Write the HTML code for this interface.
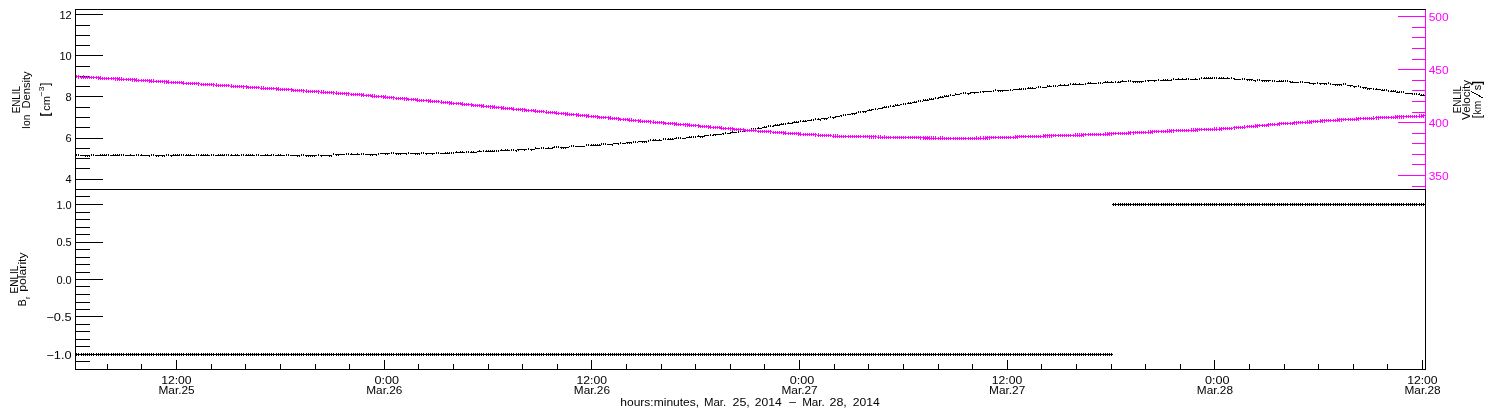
<!DOCTYPE html>
<html><head><meta charset="utf-8"><title>ENLIL</title>
<style>
html,body{margin:0;padding:0;background:#fff;}
body{width:1500px;height:410px;overflow:hidden;}
svg{display:block;}
text{font-family:"Liberation Sans",sans-serif;}
</style></head><body>
<svg width="1500" height="410" viewBox="0 0 1500 410">
<rect width="1500" height="410" fill="#fff"/>
<g shape-rendering="crispEdges">
<path d="M75 9.5h1351M75 189.5h1351M75 369.5h1351M75.5 9v361M1425.5 190v180M76 14.5h27M76 25.5h14M76 35.5h14M76 45.5h14M76 55.5h27M76 66.5h14M76 76.5h14M76 86.5h14M76 96.5h27M76 107.5h14M76 117.5h14M76 127.5h14M76 138.5h27M76 148.5h14M76 158.5h14M76 168.5h14M76 179.5h27M76 196.5h14M76 204.5h27M76 212.5h14M76 219.5h14M76 227.5h14M76 234.5h14M76 242.5h27M76 249.5h14M76 257.5h14M76 264.5h14M76 272.5h14M76 279.5h27M76 286.5h14M76 294.5h14M76 302.5h14M76 309.5h14M76 316.5h27M76 324.5h14M76 331.5h14M76 339.5h14M76 346.5h14M76 354.5h27M76 361.5h14M107.5 364v5M141.5 364v5M176.5 360v9M211.5 364v5M245.5 364v5M280.5 364v5M315.5 364v5M349.5 364v5M384.5 360v9M418.5 364v5M453.5 364v5M488.5 364v5M522.5 364v5M557.5 364v5M591.5 360v9M626.5 364v5M661.5 364v5M695.5 364v5M730.5 364v5M764.5 364v5M799.5 360v9M834.5 364v5M868.5 364v5M903.5 364v5M938.5 364v5M972.5 364v5M1007.5 360v9M1041.5 364v5M1076.5 364v5M1111.5 364v5M1145.5 364v5M1180.5 364v5M1214.5 360v9M1249.5 364v5M1284.5 364v5M1318.5 364v5M1353.5 364v5M1387.5 364v5M1422.5 360v9M76.5 154v2M78.5 154v2M80 155.5h1M81 155.5h1M82 155.5h1M83 155.5h1M84 155.5h1M85 155.5h1M85 156.5h1M86 155.5h1M87 155.5h1M87 156.5h1M88 155.5h1M89 155.5h1M89 156.5h1M91.5 154v2M93.5 154v2M95 155.5h1M96 155.5h1M97 155.5h1M98 155.5h1M99 155.5h1M100 155.5h1M100 154.5h1M101 155.5h1M102 155.5h1M102 154.5h1M103 155.5h1M104 155.5h1M104 154.5h1M105 155.5h1M106 155.5h1M106 154.5h1M108.5 154v2M110 155.5h1M111 155.5h1M112 155.5h1M113 155.5h1M113 154.5h1M114 155.5h1M115 155.5h1M115 154.5h1M116 155.5h1M117 155.5h1M117 154.5h1M118 155.5h1M119 155.5h1M119 154.5h1M121.5 154v2M123.5 154v2M125 155.5h1M126 155.5h1M127 155.5h1M128 155.5h1M129 155.5h1M130 155.5h1M130 154.5h1M131 155.5h1M132 155.5h1M133 155.5h1M134 155.5h1M136.5 154v2M138.5 154v2M140 155.5h1M141 155.5h1M141 154.5h1M142 155.5h1M143 155.5h1M144 155.5h1M145 155.5h1M146 155.5h1M147 155.5h1M148 155.5h1M149 155.5h1M149 156.5h1M151.5 154v2M153.5 154v2M155 155.5h1M156 155.5h1M156 156.5h1M157 155.5h1M158 155.5h1M158 156.5h1M159 155.5h1M160 155.5h1M161 155.5h1M162 155.5h1M162 156.5h1M163 155.5h1M164 155.5h1M164 156.5h1M166.5 154v2M168.5 154v2M170 155.5h1M171 155.5h1M171 156.5h1M172 155.5h1M173 155.5h1M173 154.5h1M174 155.5h1M175 155.5h1M175 154.5h1M176 155.5h1M177 155.5h1M177 154.5h1M178 155.5h1M179 155.5h1M179 154.5h1M181.5 154v2M183.5 154v2M185 155.5h1M186 155.5h1M186 154.5h1M187 155.5h1M188 155.5h1M188 154.5h1M189 155.5h1M190 155.5h1M190 154.5h1M191 155.5h1M192 155.5h1M193 155.5h1M194 155.5h1M196.5 154v2M198.5 154v2M200 155.5h1M201 155.5h1M201 154.5h1M202 155.5h1M203 155.5h1M203 154.5h1M204 155.5h1M205 155.5h1M205 154.5h1M206 155.5h1M207 155.5h1M207 154.5h1M208 155.5h1M209 155.5h1M211.5 154v2M213.5 154v2M215 155.5h1M216 155.5h1M217 155.5h1M218 155.5h1M218 154.5h1M219 155.5h1M220 155.5h1M220 154.5h1M221 155.5h1M222 155.5h1M222 154.5h1M223 155.5h1M224 155.5h1M224 154.5h1M226.5 154v2M228.5 154v2M230 155.5h1M231 155.5h1M231 154.5h1M232 155.5h1M233 155.5h1M234 155.5h1M235 155.5h1M235 154.5h1M236 155.5h1M237 155.5h1M237 154.5h1M238 155.5h1M239 155.5h1M241.5 154v2M243.5 154v2M245 155.5h1M246 155.5h1M246 154.5h1M247 155.5h1M248 155.5h1M248 154.5h1M249 155.5h1M250 155.5h1M250 154.5h1M251 155.5h1M252 155.5h1M252 154.5h1M253 155.5h1M254 155.5h1M256.5 154v2M258.5 154v2M260 155.5h1M261 155.5h1M262 155.5h1M263 155.5h1M264 155.5h1M265 155.5h1M265 154.5h1M266 155.5h1M267 155.5h1M267 154.5h1M268 155.5h1M269 155.5h1M270 155.5h1M271 155.5h1M271 154.5h1M273.5 154v2M275 155.5h1M276 155.5h1M277 155.5h1M278 155.5h1M278 154.5h1M279 155.5h1M280 155.5h1M280 154.5h1M281 155.5h1M282 155.5h1M283 155.5h1M284 155.5h1M286.5 154v2M288.5 154v2M290 155.5h1M291 155.5h1M292 155.5h1M293 155.5h1M294 155.5h1M295 155.5h1M296 155.5h1M297 155.5h1M297 156.5h1M298 155.5h1M299 155.5h1M299 156.5h1M301.5 154v2M303.5 154v2M305 155.5h1M306 155.5h1M306 156.5h1M307 155.5h1M308 155.5h1M308 156.5h1M309 155.5h1M310 155.5h1M310 156.5h1M311 155.5h1M312 155.5h1M312 156.5h1M313 155.5h1M314 155.5h1M314 156.5h1M315 155.5h1M316 155.5h1M318.5 154v2M320 155.5h1M321 155.5h1M321 156.5h1M322 155.5h1M323 155.5h1M324 155.5h1M325 155.5h1M326 155.5h1M327 155.5h1M328 155.5h1M329 155.5h1M329 156.5h1M330 155.5h1M331 155.5h1M331 156.5h1M333.5 153v2M335 154.5h1M336 154.5h1M336 155.5h1M337 154.5h1M338 154.5h1M338 155.5h1M339 154.5h1M340 154.5h1M341 154.5h1M342 154.5h1M343 154.5h1M344 154.5h1M346.5 153v2M348.5 153v2M350 154.5h1M351 154.5h1M351 153.5h1M352 154.5h1M353 154.5h1M354 154.5h1M355 154.5h1M356 154.5h1M357 154.5h1M357 153.5h1M358 154.5h1M359 154.5h1M361.5 153v2M363.5 153v2M365 154.5h1M366 154.5h1M367 154.5h1M368 154.5h1M369 154.5h1M370 154.5h1M370 155.5h1M371 154.5h1M372 154.5h1M372 155.5h1M373 154.5h1M374 154.5h1M375 154.5h1M376 154.5h1M376 155.5h1M378.5 153v2M380 153.5h1M381 153.5h1M382 153.5h1M383 153.5h1M384 153.5h1M385 153.5h1M385 154.5h1M386 153.5h1M387 153.5h1M387 154.5h1M388 153.5h1M389 153.5h1M391.5 152v2M393.5 152v2M395 153.5h1M396 153.5h1M396 154.5h1M397 153.5h1M398 153.5h1M398 154.5h1M399 153.5h1M400 153.5h1M400 154.5h1M401 153.5h1M402 153.5h1M403 153.5h1M404 153.5h1M405 153.5h1M406 153.5h1M406 154.5h1M408.5 152v2M410 153.5h1M411 153.5h1M412 153.5h1M413 153.5h1M414 153.5h1M415 153.5h1M415 154.5h1M416 153.5h1M417 153.5h1M417 154.5h1M418 153.5h1M419 153.5h1M419 154.5h1M421.5 152v2M423.5 152v2M425 153.5h1M426 153.5h1M426 154.5h1M427 153.5h1M428 153.5h1M429 153.5h1M430 153.5h1M431 153.5h1M432 153.5h1M432 154.5h1M433 153.5h1M434 153.5h1M436.5 152v2M438.5 152v2M440 153.5h1M441 153.5h1M442 153.5h1M443 153.5h1M444 153.5h1M445 153.5h1M445 152.5h1M446 153.5h1M447 153.5h1M447 152.5h1M448 153.5h1M449 153.5h1M449 152.5h1M451.5 152v2M453.5 152v2M455 152.5h1M456 152.5h1M456 151.5h1M457 152.5h1M458 152.5h1M459 152.5h1M460 152.5h1M460 151.5h1M461 152.5h1M462 152.5h1M462 151.5h1M463 152.5h1M464 152.5h1M466.5 151v2M468.5 151v2M470 152.5h1M471 152.5h1M471 151.5h1M472 152.5h1M473 152.5h1M473 151.5h1M474 152.5h1M475 152.5h1M476 152.5h1M477 151.5h1M478 151.5h1M479 151.5h1M479 150.5h1M480 151.5h1M481 151.5h1M483.5 150v2M485 151.5h1M486 151.5h1M486 150.5h1M487 151.5h1M488 151.5h1M488 150.5h1M489 151.5h1M490 151.5h1M490 150.5h1M491 151.5h1M492 151.5h1M492 150.5h1M493 151.5h1M494 151.5h1M494 150.5h1M496.5 150v2M498.5 150v2M500 150.5h1M501 150.5h1M501 149.5h1M502 150.5h1M503 150.5h1M504 150.5h1M505 150.5h1M505 149.5h1M506 150.5h1M507 150.5h1M507 149.5h1M508 150.5h1M509 150.5h1M511.5 149v2M513.5 149v2M515 150.5h1M516 150.5h1M516 151.5h1M517 149.5h1M518 149.5h1M518 150.5h1M519 149.5h1M520 149.5h1M521 149.5h1M522 149.5h1M523 149.5h1M524 149.5h1M524 150.5h1M525 149.5h1M526 149.5h1M528.5 148v2M530 149.5h1M531 149.5h1M531 150.5h1M532 149.5h1M533 149.5h1M534 149.5h1M535 148.5h1M535 147.5h1M536 148.5h1M537 148.5h1M538 148.5h1M539 148.5h1M541.5 147v2M543.5 147v2M545 148.5h1M546 148.5h1M547 148.5h1M548 148.5h1M548 147.5h1M549 148.5h1M550 148.5h1M551 148.5h1M552 148.5h1M552 147.5h1M553 147.5h1M554 147.5h1M554 146.5h1M556.5 146v2M558.5 146v2M560 147.5h1M561 147.5h1M561 148.5h1M562 147.5h1M563 147.5h1M563 148.5h1M564 147.5h1M565 147.5h1M565 148.5h1M566 147.5h1M567 147.5h1M568 147.5h1M569 146.5h1M571.5 145v2M573.5 145v2M575 146.5h1M576 146.5h1M577 146.5h1M578 146.5h1M579 146.5h1M580 146.5h1M581 146.5h1M582 146.5h1M583 146.5h1M584 146.5h1M586.5 144v2M588.5 144v2M590 145.5h1M591 145.5h1M591 144.5h1M592 145.5h1M593 145.5h1M593 144.5h1M594 145.5h1M595 145.5h1M595 144.5h1M596 145.5h1M597 145.5h1M597 144.5h1M598 145.5h1M599 145.5h1M599 144.5h1M600 145.5h1M601 144.5h1M601 143.5h1M603.5 143v2M605.5 143v2M607 144.5h1M608 144.5h1M609 144.5h1M610 144.5h1M611 144.5h1M612 144.5h1M612 145.5h1M613 143.5h1M614 143.5h1M615 143.5h1M616 143.5h1M617 143.5h1M618 143.5h1M618 144.5h1M620.5 142v2M622 143.5h1M623 143.5h1M624 143.5h1M625 143.5h1M626 142.5h1M627 142.5h1M627 143.5h1M628 142.5h1M629 142.5h1M629 143.5h1M630 142.5h1M631 142.5h1M631 143.5h1M633.5 141v2M635.5 141v2M637 142.5h1M638 141.5h1M639 141.5h1M640 141.5h1M641 141.5h1M642 141.5h1M642 142.5h1M643 141.5h1M644 141.5h1M644 142.5h1M645 141.5h1M646 141.5h1M646 142.5h1M648.5 140v2M650.5 139v2M652 140.5h1M653 140.5h1M653 139.5h1M654 140.5h1M655 140.5h1M655 139.5h1M656 140.5h1M657 140.5h1M658 140.5h1M659 140.5h1M659 139.5h1M660 140.5h1M661 140.5h1M663.5 138v2M665.5 138v2M667 139.5h1M668 139.5h1M668 138.5h1M669 139.5h1M670 139.5h1M670 138.5h1M671 139.5h1M672 139.5h1M672 138.5h1M673 139.5h1M674 138.5h1M675 138.5h1M676 138.5h1M676 137.5h1M678.5 137v2M680.5 137v2M682 138.5h1M683 138.5h1M684 138.5h1M685 138.5h1M686 137.5h1M687 137.5h1M688 137.5h1M689 137.5h1M689 136.5h1M690 137.5h1M691 137.5h1M691 136.5h1M693.5 136v2M695.5 136v2M697 136.5h1M698 136.5h1M698 135.5h1M699 136.5h1M700 136.5h1M700 137.5h1M701 136.5h1M702 136.5h1M702 137.5h1M703 136.5h1M704 135.5h1M704 136.5h1M705 135.5h1M706 135.5h1M707 135.5h1M708 135.5h1M710.5 134v2M712 135.5h1M713 134.5h1M713 135.5h1M714 134.5h1M715 134.5h1M715 135.5h1M716 134.5h1M717 134.5h1M718 134.5h1M719 134.5h1M720 134.5h1M721 134.5h1M722 133.5h1M723 133.5h1M723 134.5h1M725.5 132v2M727 133.5h1M728 133.5h1M729 133.5h1M730 133.5h1M730 132.5h1M731 132.5h1M732 132.5h1M732 131.5h1M733 132.5h1M734 132.5h1M735 132.5h1M736 132.5h1M738.5 131v2M740.5 130v2M742 131.5h1M743 131.5h1M744 131.5h1M745 130.5h1M745 129.5h1M746 130.5h1M747 130.5h1M748 130.5h1M749 130.5h1M750 130.5h1M751 129.5h1M751 128.5h1M753.5 128v2M755.5 128v2M757 128.5h1M758 128.5h1M758 127.5h1M759 128.5h1M760 128.5h1M761 128.5h1M762 127.5h1M763 127.5h1M764 127.5h1M764 126.5h1M765 127.5h1M766 127.5h1M766 126.5h1M768.5 125v2M770.5 125v2M772 126.5h1M773 126.5h1M773 125.5h1M774 125.5h1M775 125.5h1M775 124.5h1M776 125.5h1M777 125.5h1M777 124.5h1M778 125.5h1M779 125.5h1M779 124.5h1M780 124.5h1M781 124.5h1M781 123.5h1M782 124.5h1M783 124.5h1M783 123.5h1M785.5 123v2M787 123.5h1M788 123.5h1M788 122.5h1M789 123.5h1M790 123.5h1M791 123.5h1M792 123.5h1M792 122.5h1M793 122.5h1M794 122.5h1M794 121.5h1M795 122.5h1M796 122.5h1M796 121.5h1M797 122.5h1M798 122.5h1M798 121.5h1M800.5 120v2M802 121.5h1M803 121.5h1M803 120.5h1M804 121.5h1M805 121.5h1M805 120.5h1M806 121.5h1M807 120.5h1M808 120.5h1M809 120.5h1M810 120.5h1M811 120.5h1M811 119.5h1M813.5 119v2M815.5 118v2M817 119.5h1M818 119.5h1M818 118.5h1M819 119.5h1M820 119.5h1M820 120.5h1M821 118.5h1M822 118.5h1M823 118.5h1M824 118.5h1M824 119.5h1M825 118.5h1M826 118.5h1M826 119.5h1M827 118.5h1M828 117.5h1M830.5 116v2M832 117.5h1M833 117.5h1M833 118.5h1M834 117.5h1M835 116.5h1M835 117.5h1M836 116.5h1M837 116.5h1M838 116.5h1M839 116.5h1M840 115.5h1M841 115.5h1M841 116.5h1M843.5 114v2M845.5 114v2M847 114.5h1M848 114.5h1M849 114.5h1M850 114.5h1M851 113.5h1M852 113.5h1M852 114.5h1M853 113.5h1M854 113.5h1M854 114.5h1M855 113.5h1M856 112.5h1M856 113.5h1M858.5 111v2M860.5 111v2M862 111.5h1M863 111.5h1M863 112.5h1M864 111.5h1M865 111.5h1M865 112.5h1M866 111.5h1M867 110.5h1M868 110.5h1M869 110.5h1M869 109.5h1M870 110.5h1M871 110.5h1M871 109.5h1M872 109.5h1M873 109.5h1M875.5 108v2M877 109.5h1M878 108.5h1M879 108.5h1M880 108.5h1M881 108.5h1M882 108.5h1M882 107.5h1M883 107.5h1M884 107.5h1M884 106.5h1M885 107.5h1M886 107.5h1M886 106.5h1M888.5 106v2M890.5 105v2M892 106.5h1M893 106.5h1M893 105.5h1M894 106.5h1M895 105.5h1M895 104.5h1M896 105.5h1M897 105.5h1M897 104.5h1M898 105.5h1M899 105.5h1M900 104.5h1M901 104.5h1M903.5 103v2M905.5 103v2M907 103.5h1M908 103.5h1M908 102.5h1M909 103.5h1M910 103.5h1M910 102.5h1M911 103.5h1M912 102.5h1M913 102.5h1M914 102.5h1M914 101.5h1M915 102.5h1M916 102.5h1M916 101.5h1M918.5 100v2M920.5 100v2M922 101.5h1M923 100.5h1M923 99.5h1M924 100.5h1M925 100.5h1M925 99.5h1M926 100.5h1M927 100.5h1M927 99.5h1M928 100.5h1M929 99.5h1M929 98.5h1M930 99.5h1M931 99.5h1M931 98.5h1M932 99.5h1M933 99.5h1M933 98.5h1M935.5 97v2M937 98.5h1M938 98.5h1M938 97.5h1M939 97.5h1M940 97.5h1M940 96.5h1M941 97.5h1M942 97.5h1M942 96.5h1M943 97.5h1M944 96.5h1M944 95.5h1M945 96.5h1M946 96.5h1M946 95.5h1M947 96.5h1M948 96.5h1M948 95.5h1M950.5 94v2M952 95.5h1M953 95.5h1M954 95.5h1M955 94.5h1M955 93.5h1M956 94.5h1M957 94.5h1M958 94.5h1M959 94.5h1M960 93.5h1M961 93.5h1M963.5 92v2M965.5 92v2M967 93.5h1M968 93.5h1M968 94.5h1M969 93.5h1M970 92.5h1M970 93.5h1M971 92.5h1M972 92.5h1M973 92.5h1M974 92.5h1M974 93.5h1M975 92.5h1M976 92.5h1M977 92.5h1M978 92.5h1M980.5 91v2M982 91.5h1M983 91.5h1M983 92.5h1M984 91.5h1M985 91.5h1M986 91.5h1M987 91.5h1M988 91.5h1M989 91.5h1M990 91.5h1M991 91.5h1M993.5 90v2M995.5 89v2M997 90.5h1M998 90.5h1M998 91.5h1M999 90.5h1M1000 90.5h1M1000 91.5h1M1001 90.5h1M1002 90.5h1M1002 91.5h1M1003 90.5h1M1004 90.5h1M1005 90.5h1M1006 90.5h1M1007 90.5h1M1008 90.5h1M1010.5 89v2M1012 90.5h1M1013 89.5h1M1014 89.5h1M1015 89.5h1M1016 89.5h1M1017 89.5h1M1018 89.5h1M1019 89.5h1M1019 88.5h1M1020 89.5h1M1021 89.5h1M1021 88.5h1M1023.5 88v2M1025.5 88v2M1027 88.5h1M1028 88.5h1M1028 87.5h1M1029 88.5h1M1030 88.5h1M1030 87.5h1M1031 88.5h1M1032 88.5h1M1032 87.5h1M1033 88.5h1M1034 88.5h1M1035 88.5h1M1036 87.5h1M1038.5 86v2M1040.5 86v2M1042 87.5h1M1043 87.5h1M1044 87.5h1M1045 87.5h1M1046 87.5h1M1047 86.5h1M1047 85.5h1M1048 86.5h1M1049 86.5h1M1049 85.5h1M1050 86.5h1M1051 86.5h1M1053.5 85v2M1055.5 85v2M1057 86.5h1M1058 85.5h1M1059 85.5h1M1060 85.5h1M1060 84.5h1M1061 85.5h1M1062 85.5h1M1063 85.5h1M1064 85.5h1M1064 84.5h1M1065 85.5h1M1066 85.5h1M1067 85.5h1M1068 85.5h1M1068 84.5h1M1070.5 83v2M1072 84.5h1M1073 84.5h1M1073 83.5h1M1074 84.5h1M1075 84.5h1M1075 83.5h1M1076 84.5h1M1077 84.5h1M1078 84.5h1M1079 84.5h1M1079 83.5h1M1080 84.5h1M1081 84.5h1M1082 84.5h1M1083 84.5h1M1085.5 83v2M1087 83.5h1M1088 83.5h1M1088 82.5h1M1089 83.5h1M1090 83.5h1M1090 82.5h1M1091 83.5h1M1092 83.5h1M1093 83.5h1M1094 83.5h1M1095 83.5h1M1096 83.5h1M1098.5 82v2M1100.5 82v2M1102 83.5h1M1103 82.5h1M1104 82.5h1M1105 82.5h1M1105 81.5h1M1106 82.5h1M1107 82.5h1M1107 81.5h1M1108 82.5h1M1109 82.5h1M1110 82.5h1M1111 82.5h1M1111 81.5h1M1112 82.5h1M1113 82.5h1M1115.5 81v2M1117 82.5h1M1118 82.5h1M1118 81.5h1M1119 82.5h1M1120 82.5h1M1120 81.5h1M1121 81.5h1M1122 81.5h1M1122 80.5h1M1123 81.5h1M1124 81.5h1M1125 81.5h1M1126 81.5h1M1128.5 80v2M1130.5 80v2M1132 81.5h1M1133 81.5h1M1133 82.5h1M1134 81.5h1M1135 81.5h1M1135 82.5h1M1136 81.5h1M1137 81.5h1M1137 82.5h1M1138 81.5h1M1139 81.5h1M1139 82.5h1M1140 81.5h1M1141 81.5h1M1141 82.5h1M1142 81.5h1M1143 81.5h1M1145.5 80v2M1147 80.5h1M1148 80.5h1M1148 81.5h1M1149 80.5h1M1150 80.5h1M1151 80.5h1M1152 80.5h1M1153 80.5h1M1154 80.5h1M1154 81.5h1M1155 80.5h1M1156 80.5h1M1158.5 79v2M1160 80.5h1M1161 80.5h1M1162 80.5h1M1163 80.5h1M1163 79.5h1M1164 80.5h1M1165 80.5h1M1165 79.5h1M1166 80.5h1M1167 80.5h1M1167 79.5h1M1168 80.5h1M1169 80.5h1M1170 80.5h1M1171 80.5h1M1171 79.5h1M1173.5 78v2M1175 79.5h1M1176 79.5h1M1177 79.5h1M1178 79.5h1M1178 78.5h1M1179 79.5h1M1180 79.5h1M1181 79.5h1M1182 79.5h1M1182 78.5h1M1183 79.5h1M1184 79.5h1M1185 79.5h1M1186 79.5h1M1186 78.5h1M1188.5 78v2M1190 79.5h1M1191 79.5h1M1192 79.5h1M1193 79.5h1M1194 79.5h1M1195 79.5h1M1195 78.5h1M1196 79.5h1M1197 79.5h1M1199.5 78v2M1201.5 77v2M1203 78.5h1M1204 78.5h1M1204 77.5h1M1205 78.5h1M1206 78.5h1M1206 77.5h1M1207 78.5h1M1208 78.5h1M1208 77.5h1M1209 78.5h1M1210 78.5h1M1210 77.5h1M1211 78.5h1M1212 78.5h1M1212 77.5h1M1214.5 77v2M1216.5 77v2M1218 78.5h1M1219 78.5h1M1219 77.5h1M1220 78.5h1M1221 78.5h1M1221 77.5h1M1222 78.5h1M1223 78.5h1M1223 77.5h1M1224 78.5h1M1225 78.5h1M1226 78.5h1M1227 78.5h1M1227 77.5h1M1228 78.5h1M1229 78.5h1M1231.5 77v2M1233 78.5h1M1234 78.5h1M1234 79.5h1M1235 79.5h1M1236 79.5h1M1237 79.5h1M1238 79.5h1M1239 79.5h1M1240 79.5h1M1242.5 78v2M1244.5 78v2M1246 79.5h1M1247 79.5h1M1247 80.5h1M1248 79.5h1M1249 79.5h1M1249 80.5h1M1250 79.5h1M1251 79.5h1M1251 80.5h1M1252 79.5h1M1253 80.5h1M1254 80.5h1M1255 80.5h1M1255 81.5h1M1257.5 79v2M1259.5 79v2M1261 80.5h1M1262 80.5h1M1262 81.5h1M1263 80.5h1M1264 80.5h1M1264 81.5h1M1265 80.5h1M1266 80.5h1M1266 81.5h1M1267 80.5h1M1268 80.5h1M1268 81.5h1M1269 80.5h1M1270 80.5h1M1272.5 80v2M1274.5 80v2M1276 81.5h1M1277 81.5h1M1278 81.5h1M1279 81.5h1M1279 80.5h1M1280 81.5h1M1281 81.5h1M1281 80.5h1M1282 81.5h1M1283 81.5h1M1283 80.5h1M1285.5 80v2M1287.5 80v2M1289 81.5h1M1290 82.5h1M1290 81.5h1M1291 82.5h1M1292 82.5h1M1292 81.5h1M1293 82.5h1M1294 82.5h1M1295 82.5h1M1296 82.5h1M1297 82.5h1M1298 82.5h1M1300.5 81v2M1302.5 81v2M1304 82.5h1M1305 82.5h1M1306 82.5h1M1307 82.5h1M1308 82.5h1M1309 82.5h1M1309 83.5h1M1310 83.5h1M1311 83.5h1M1312 83.5h1M1313 83.5h1M1313 84.5h1M1314 83.5h1M1315 83.5h1M1317.5 82v2M1319 83.5h1M1320 83.5h1M1320 84.5h1M1321 83.5h1M1322 83.5h1M1323 83.5h1M1324 83.5h1M1324 84.5h1M1325 83.5h1M1326 83.5h1M1326 84.5h1M1328.5 82v2M1330.5 83v2M1332 84.5h1M1333 84.5h1M1334 84.5h1M1335 84.5h1M1335 85.5h1M1336 84.5h1M1337 84.5h1M1337 85.5h1M1338 84.5h1M1339 84.5h1M1339 85.5h1M1340 84.5h1M1341 84.5h1M1341 85.5h1M1343.5 83v2M1345.5 83v2M1347 85.5h1M1348 85.5h1M1349 85.5h1M1350 85.5h1M1350 86.5h1M1351 85.5h1M1352 85.5h1M1353 86.5h1M1354 86.5h1M1354 87.5h1M1355 86.5h1M1356 86.5h1M1358.5 85v2M1360.5 86v2M1362 87.5h1M1363 87.5h1M1363 88.5h1M1364 87.5h1M1365 87.5h1M1365 88.5h1M1366 87.5h1M1367 88.5h1M1367 89.5h1M1368 88.5h1M1369 88.5h1M1369 89.5h1M1370 88.5h1M1371 88.5h1M1373.5 88v2M1375 89.5h1M1376 89.5h1M1376 88.5h1M1377 89.5h1M1378 89.5h1M1379 89.5h1M1380 89.5h1M1381 90.5h1M1382 90.5h1M1382 89.5h1M1383 90.5h1M1384 90.5h1M1384 89.5h1M1386.5 89v2M1388.5 90v2M1390 91.5h1M1391 91.5h1M1391 90.5h1M1392 91.5h1M1393 91.5h1M1393 90.5h1M1394 91.5h1M1395 91.5h1M1395 90.5h1M1396 92.5h1M1397 92.5h1M1397 91.5h1M1398 92.5h1M1399 92.5h1M1399 91.5h1M1401.5 91v2M1403.5 91v2M1405 93.5h1M1406 93.5h1M1407 93.5h1M1408 93.5h1M1409 93.5h1M1410 93.5h1M1411 93.5h1M1412 94.5h1M1412 93.5h1M1414.5 93v2M1416.5 93v2M1418 94.5h1M1419 94.5h1M1419 93.5h1M1420 95.5h1M1421 95.5h1M1421 94.5h1M1422 95.5h1M1423 95.5h1M1423 94.5h1M1424 95.5h1M76 354.5h2M76.5 353v3M77 354.5h3M78.5 353v3M80 354.5h3M81.5 353v3M82 354.5h3M83.5 353v3M84 354.5h3M85.5 353v3M86 354.5h3M87.5 353v3M88 354.5h3M89.5 353v3M90 354.5h3M91.5 353v3M92 354.5h3M93.5 353v3M95 354.5h3M96.5 353v3M97 354.5h3M98.5 353v3M99 354.5h3M100.5 353v3M101 354.5h3M102.5 353v3M103 354.5h3M104.5 353v3M105 354.5h3M106.5 353v3M107 354.5h3M108.5 353v3M110 354.5h3M111.5 353v3M112 354.5h3M113.5 353v3M114 354.5h3M115.5 353v3M116 354.5h3M117.5 353v3M118 354.5h3M119.5 353v3M120 354.5h3M121.5 353v3M122 354.5h3M123.5 353v3M125 354.5h3M126.5 353v3M127 354.5h3M128.5 353v3M129 354.5h3M130.5 353v3M131 354.5h3M132.5 353v3M133 354.5h3M134.5 353v3M135 354.5h3M136.5 353v3M137 354.5h3M138.5 353v3M140 354.5h3M141.5 353v3M142 354.5h3M143.5 353v3M144 354.5h3M145.5 353v3M146 354.5h3M147.5 353v3M148 354.5h3M149.5 353v3M150 354.5h3M151.5 353v3M152 354.5h3M153.5 353v3M155 354.5h3M156.5 353v3M157 354.5h3M158.5 353v3M159 354.5h3M160.5 353v3M161 354.5h3M162.5 353v3M163 354.5h3M164.5 353v3M165 354.5h3M166.5 353v3M167 354.5h3M168.5 353v3M170 354.5h3M171.5 353v3M172 354.5h3M173.5 353v3M174 354.5h3M175.5 353v3M176 354.5h3M177.5 353v3M178 354.5h3M179.5 353v3M180 354.5h3M181.5 353v3M182 354.5h3M183.5 353v3M185 354.5h3M186.5 353v3M187 354.5h3M188.5 353v3M189 354.5h3M190.5 353v3M191 354.5h3M192.5 353v3M193 354.5h3M194.5 353v3M195 354.5h3M196.5 353v3M197 354.5h3M198.5 353v3M200 354.5h3M201.5 353v3M202 354.5h3M203.5 353v3M204 354.5h3M205.5 353v3M206 354.5h3M207.5 353v3M208 354.5h3M209.5 353v3M210 354.5h3M211.5 353v3M212 354.5h3M213.5 353v3M215 354.5h3M216.5 353v3M217 354.5h3M218.5 353v3M219 354.5h3M220.5 353v3M221 354.5h3M222.5 353v3M223 354.5h3M224.5 353v3M225 354.5h3M226.5 353v3M227 354.5h3M228.5 353v3M230 354.5h3M231.5 353v3M232 354.5h3M233.5 353v3M234 354.5h3M235.5 353v3M236 354.5h3M237.5 353v3M238 354.5h3M239.5 353v3M240 354.5h3M241.5 353v3M242 354.5h3M243.5 353v3M245 354.5h3M246.5 353v3M247 354.5h3M248.5 353v3M249 354.5h3M250.5 353v3M251 354.5h3M252.5 353v3M253 354.5h3M254.5 353v3M255 354.5h3M256.5 353v3M257 354.5h3M258.5 353v3M260 354.5h3M261.5 353v3M262 354.5h3M263.5 353v3M264 354.5h3M265.5 353v3M266 354.5h3M267.5 353v3M268 354.5h3M269.5 353v3M270 354.5h3M271.5 353v3M272 354.5h3M273.5 353v3M275 354.5h3M276.5 353v3M277 354.5h3M278.5 353v3M279 354.5h3M280.5 353v3M281 354.5h3M282.5 353v3M283 354.5h3M284.5 353v3M285 354.5h3M286.5 353v3M287 354.5h3M288.5 353v3M290 354.5h3M291.5 353v3M292 354.5h3M293.5 353v3M294 354.5h3M295.5 353v3M296 354.5h3M297.5 353v3M298 354.5h3M299.5 353v3M300 354.5h3M301.5 353v3M302 354.5h3M303.5 353v3M305 354.5h3M306.5 353v3M307 354.5h3M308.5 353v3M309 354.5h3M310.5 353v3M311 354.5h3M312.5 353v3M313 354.5h3M314.5 353v3M315 354.5h3M316.5 353v3M317 354.5h3M318.5 353v3M320 354.5h3M321.5 353v3M322 354.5h3M323.5 353v3M324 354.5h3M325.5 353v3M326 354.5h3M327.5 353v3M328 354.5h3M329.5 353v3M330 354.5h3M331.5 353v3M332 354.5h3M333.5 353v3M335 354.5h3M336.5 353v3M337 354.5h3M338.5 353v3M339 354.5h3M340.5 353v3M341 354.5h3M342.5 353v3M343 354.5h3M344.5 353v3M345 354.5h3M346.5 353v3M347 354.5h3M348.5 353v3M350 354.5h3M351.5 353v3M352 354.5h3M353.5 353v3M354 354.5h3M355.5 353v3M356 354.5h3M357.5 353v3M358 354.5h3M359.5 353v3M360 354.5h3M361.5 353v3M362 354.5h3M363.5 353v3M365 354.5h3M366.5 353v3M367 354.5h3M368.5 353v3M369 354.5h3M370.5 353v3M371 354.5h3M372.5 353v3M373 354.5h3M374.5 353v3M375 354.5h3M376.5 353v3M377 354.5h3M378.5 353v3M380 354.5h3M381.5 353v3M382 354.5h3M383.5 353v3M384 354.5h3M385.5 353v3M386 354.5h3M387.5 353v3M388 354.5h3M389.5 353v3M390 354.5h3M391.5 353v3M392 354.5h3M393.5 353v3M395 354.5h3M396.5 353v3M397 354.5h3M398.5 353v3M399 354.5h3M400.5 353v3M401 354.5h3M402.5 353v3M403 354.5h3M404.5 353v3M405 354.5h3M406.5 353v3M407 354.5h3M408.5 353v3M410 354.5h3M411.5 353v3M412 354.5h3M413.5 353v3M414 354.5h3M415.5 353v3M416 354.5h3M417.5 353v3M418 354.5h3M419.5 353v3M420 354.5h3M421.5 353v3M422 354.5h3M423.5 353v3M425 354.5h3M426.5 353v3M427 354.5h3M428.5 353v3M429 354.5h3M430.5 353v3M431 354.5h3M432.5 353v3M433 354.5h3M434.5 353v3M435 354.5h3M436.5 353v3M437 354.5h3M438.5 353v3M440 354.5h3M441.5 353v3M442 354.5h3M443.5 353v3M444 354.5h3M445.5 353v3M446 354.5h3M447.5 353v3M448 354.5h3M449.5 353v3M450 354.5h3M451.5 353v3M452 354.5h3M453.5 353v3M455 354.5h3M456.5 353v3M457 354.5h3M458.5 353v3M459 354.5h3M460.5 353v3M461 354.5h3M462.5 353v3M463 354.5h3M464.5 353v3M465 354.5h3M466.5 353v3M467 354.5h3M468.5 353v3M470 354.5h3M471.5 353v3M472 354.5h3M473.5 353v3M474 354.5h3M475.5 353v3M476 354.5h3M477.5 353v3M478 354.5h3M479.5 353v3M480 354.5h3M481.5 353v3M482 354.5h3M483.5 353v3M485 354.5h3M486.5 353v3M487 354.5h3M488.5 353v3M489 354.5h3M490.5 353v3M491 354.5h3M492.5 353v3M493 354.5h3M494.5 353v3M495 354.5h3M496.5 353v3M497 354.5h3M498.5 353v3M500 354.5h3M501.5 353v3M502 354.5h3M503.5 353v3M504 354.5h3M505.5 353v3M506 354.5h3M507.5 353v3M508 354.5h3M509.5 353v3M510 354.5h3M511.5 353v3M512 354.5h3M513.5 353v3M515 354.5h3M516.5 353v3M517 354.5h3M518.5 353v3M519 354.5h3M520.5 353v3M521 354.5h3M522.5 353v3M523 354.5h3M524.5 353v3M525 354.5h3M526.5 353v3M527 354.5h3M528.5 353v3M530 354.5h3M531.5 353v3M532 354.5h3M533.5 353v3M534 354.5h3M535.5 353v3M536 354.5h3M537.5 353v3M538 354.5h3M539.5 353v3M540 354.5h3M541.5 353v3M542 354.5h3M543.5 353v3M545 354.5h3M546.5 353v3M547 354.5h3M548.5 353v3M549 354.5h3M550.5 353v3M551 354.5h3M552.5 353v3M553 354.5h3M554.5 353v3M555 354.5h3M556.5 353v3M557 354.5h3M558.5 353v3M560 354.5h3M561.5 353v3M562 354.5h3M563.5 353v3M564 354.5h3M565.5 353v3M566 354.5h3M567.5 353v3M568 354.5h3M569.5 353v3M570 354.5h3M571.5 353v3M572 354.5h3M573.5 353v3M575 354.5h3M576.5 353v3M577 354.5h3M578.5 353v3M579 354.5h3M580.5 353v3M581 354.5h3M582.5 353v3M583 354.5h3M584.5 353v3M585 354.5h3M586.5 353v3M587 354.5h3M588.5 353v3M590 354.5h3M591.5 353v3M592 354.5h3M593.5 353v3M594 354.5h3M595.5 353v3M596 354.5h3M597.5 353v3M598 354.5h3M599.5 353v3M600 354.5h3M601.5 353v3M602 354.5h3M603.5 353v3M604 354.5h3M605.5 353v3M607 354.5h3M608.5 353v3M609 354.5h3M610.5 353v3M611 354.5h3M612.5 353v3M613 354.5h3M614.5 353v3M615 354.5h3M616.5 353v3M617 354.5h3M618.5 353v3M619 354.5h3M620.5 353v3M622 354.5h3M623.5 353v3M624 354.5h3M625.5 353v3M626 354.5h3M627.5 353v3M628 354.5h3M629.5 353v3M630 354.5h3M631.5 353v3M632 354.5h3M633.5 353v3M634 354.5h3M635.5 353v3M637 354.5h3M638.5 353v3M639 354.5h3M640.5 353v3M641 354.5h3M642.5 353v3M643 354.5h3M644.5 353v3M645 354.5h3M646.5 353v3M647 354.5h3M648.5 353v3M649 354.5h3M650.5 353v3M652 354.5h3M653.5 353v3M654 354.5h3M655.5 353v3M656 354.5h3M657.5 353v3M658 354.5h3M659.5 353v3M660 354.5h3M661.5 353v3M662 354.5h3M663.5 353v3M664 354.5h3M665.5 353v3M667 354.5h3M668.5 353v3M669 354.5h3M670.5 353v3M671 354.5h3M672.5 353v3M673 354.5h3M674.5 353v3M675 354.5h3M676.5 353v3M677 354.5h3M678.5 353v3M679 354.5h3M680.5 353v3M682 354.5h3M683.5 353v3M684 354.5h3M685.5 353v3M686 354.5h3M687.5 353v3M688 354.5h3M689.5 353v3M690 354.5h3M691.5 353v3M692 354.5h3M693.5 353v3M694 354.5h3M695.5 353v3M697 354.5h3M698.5 353v3M699 354.5h3M700.5 353v3M701 354.5h3M702.5 353v3M703 354.5h3M704.5 353v3M705 354.5h3M706.5 353v3M707 354.5h3M708.5 353v3M709 354.5h3M710.5 353v3M712 354.5h3M713.5 353v3M714 354.5h3M715.5 353v3M716 354.5h3M717.5 353v3M718 354.5h3M719.5 353v3M720 354.5h3M721.5 353v3M722 354.5h3M723.5 353v3M724 354.5h3M725.5 353v3M727 354.5h3M728.5 353v3M729 354.5h3M730.5 353v3M731 354.5h3M732.5 353v3M733 354.5h3M734.5 353v3M735 354.5h3M736.5 353v3M737 354.5h3M738.5 353v3M739 354.5h3M740.5 353v3M742 354.5h3M743.5 353v3M744 354.5h3M745.5 353v3M746 354.5h3M747.5 353v3M748 354.5h3M749.5 353v3M750 354.5h3M751.5 353v3M752 354.5h3M753.5 353v3M754 354.5h3M755.5 353v3M757 354.5h3M758.5 353v3M759 354.5h3M760.5 353v3M761 354.5h3M762.5 353v3M763 354.5h3M764.5 353v3M765 354.5h3M766.5 353v3M767 354.5h3M768.5 353v3M769 354.5h3M770.5 353v3M772 354.5h3M773.5 353v3M774 354.5h3M775.5 353v3M776 354.5h3M777.5 353v3M778 354.5h3M779.5 353v3M780 354.5h3M781.5 353v3M782 354.5h3M783.5 353v3M784 354.5h3M785.5 353v3M787 354.5h3M788.5 353v3M789 354.5h3M790.5 353v3M791 354.5h3M792.5 353v3M793 354.5h3M794.5 353v3M795 354.5h3M796.5 353v3M797 354.5h3M798.5 353v3M799 354.5h3M800.5 353v3M802 354.5h3M803.5 353v3M804 354.5h3M805.5 353v3M806 354.5h3M807.5 353v3M808 354.5h3M809.5 353v3M810 354.5h3M811.5 353v3M812 354.5h3M813.5 353v3M814 354.5h3M815.5 353v3M817 354.5h3M818.5 353v3M819 354.5h3M820.5 353v3M821 354.5h3M822.5 353v3M823 354.5h3M824.5 353v3M825 354.5h3M826.5 353v3M827 354.5h3M828.5 353v3M829 354.5h3M830.5 353v3M832 354.5h3M833.5 353v3M834 354.5h3M835.5 353v3M836 354.5h3M837.5 353v3M838 354.5h3M839.5 353v3M840 354.5h3M841.5 353v3M842 354.5h3M843.5 353v3M844 354.5h3M845.5 353v3M847 354.5h3M848.5 353v3M849 354.5h3M850.5 353v3M851 354.5h3M852.5 353v3M853 354.5h3M854.5 353v3M855 354.5h3M856.5 353v3M857 354.5h3M858.5 353v3M859 354.5h3M860.5 353v3M862 354.5h3M863.5 353v3M864 354.5h3M865.5 353v3M866 354.5h3M867.5 353v3M868 354.5h3M869.5 353v3M870 354.5h3M871.5 353v3M872 354.5h3M873.5 353v3M874 354.5h3M875.5 353v3M877 354.5h3M878.5 353v3M879 354.5h3M880.5 353v3M881 354.5h3M882.5 353v3M883 354.5h3M884.5 353v3M885 354.5h3M886.5 353v3M887 354.5h3M888.5 353v3M889 354.5h3M890.5 353v3M892 354.5h3M893.5 353v3M894 354.5h3M895.5 353v3M896 354.5h3M897.5 353v3M898 354.5h3M899.5 353v3M900 354.5h3M901.5 353v3M902 354.5h3M903.5 353v3M904 354.5h3M905.5 353v3M907 354.5h3M908.5 353v3M909 354.5h3M910.5 353v3M911 354.5h3M912.5 353v3M913 354.5h3M914.5 353v3M915 354.5h3M916.5 353v3M917 354.5h3M918.5 353v3M919 354.5h3M920.5 353v3M922 354.5h3M923.5 353v3M924 354.5h3M925.5 353v3M926 354.5h3M927.5 353v3M928 354.5h3M929.5 353v3M930 354.5h3M931.5 353v3M932 354.5h3M933.5 353v3M934 354.5h3M935.5 353v3M937 354.5h3M938.5 353v3M939 354.5h3M940.5 353v3M941 354.5h3M942.5 353v3M943 354.5h3M944.5 353v3M945 354.5h3M946.5 353v3M947 354.5h3M948.5 353v3M949 354.5h3M950.5 353v3M952 354.5h3M953.5 353v3M954 354.5h3M955.5 353v3M956 354.5h3M957.5 353v3M958 354.5h3M959.5 353v3M960 354.5h3M961.5 353v3M962 354.5h3M963.5 353v3M964 354.5h3M965.5 353v3M967 354.5h3M968.5 353v3M969 354.5h3M970.5 353v3M971 354.5h3M972.5 353v3M973 354.5h3M974.5 353v3M975 354.5h3M976.5 353v3M977 354.5h3M978.5 353v3M979 354.5h3M980.5 353v3M982 354.5h3M983.5 353v3M984 354.5h3M985.5 353v3M986 354.5h3M987.5 353v3M988 354.5h3M989.5 353v3M990 354.5h3M991.5 353v3M992 354.5h3M993.5 353v3M994 354.5h3M995.5 353v3M997 354.5h3M998.5 353v3M999 354.5h3M1000.5 353v3M1001 354.5h3M1002.5 353v3M1003 354.5h3M1004.5 353v3M1005 354.5h3M1006.5 353v3M1007 354.5h3M1008.5 353v3M1009 354.5h3M1010.5 353v3M1012 354.5h3M1013.5 353v3M1014 354.5h3M1015.5 353v3M1016 354.5h3M1017.5 353v3M1018 354.5h3M1019.5 353v3M1020 354.5h3M1021.5 353v3M1022 354.5h3M1023.5 353v3M1024 354.5h3M1025.5 353v3M1027 354.5h3M1028.5 353v3M1029 354.5h3M1030.5 353v3M1031 354.5h3M1032.5 353v3M1033 354.5h3M1034.5 353v3M1035 354.5h3M1036.5 353v3M1037 354.5h3M1038.5 353v3M1039 354.5h3M1040.5 353v3M1042 354.5h3M1043.5 353v3M1044 354.5h3M1045.5 353v3M1046 354.5h3M1047.5 353v3M1048 354.5h3M1049.5 353v3M1050 354.5h3M1051.5 353v3M1052 354.5h3M1053.5 353v3M1054 354.5h3M1055.5 353v3M1057 354.5h3M1058.5 353v3M1059 354.5h3M1060.5 353v3M1061 354.5h3M1062.5 353v3M1063 354.5h3M1064.5 353v3M1065 354.5h3M1066.5 353v3M1067 354.5h3M1068.5 353v3M1069 354.5h3M1070.5 353v3M1072 354.5h3M1073.5 353v3M1074 354.5h3M1075.5 353v3M1076 354.5h3M1077.5 353v3M1078 354.5h3M1079.5 353v3M1080 354.5h3M1081.5 353v3M1082 354.5h3M1083.5 353v3M1084 354.5h3M1085.5 353v3M1087 354.5h3M1088.5 353v3M1089 354.5h3M1090.5 353v3M1091 354.5h3M1092.5 353v3M1093 354.5h3M1094.5 353v3M1095 354.5h3M1096.5 353v3M1097 354.5h3M1098.5 353v3M1099 354.5h3M1100.5 353v3M1102 354.5h3M1103.5 353v3M1104 354.5h3M1105.5 353v3M1106 354.5h3M1107.5 353v3M1108 354.5h3M1109.5 353v3M1110 354.5h3M1111.5 353v3M1112 204.5h3M1113.5 203v3M1114 204.5h3M1115.5 203v3M1117 204.5h3M1118.5 203v3M1119 204.5h3M1120.5 203v3M1121 204.5h3M1122.5 203v3M1123 204.5h3M1124.5 203v3M1125 204.5h3M1126.5 203v3M1127 204.5h3M1128.5 203v3M1129 204.5h3M1130.5 203v3M1132 204.5h3M1133.5 203v3M1134 204.5h3M1135.5 203v3M1136 204.5h3M1137.5 203v3M1138 204.5h3M1139.5 203v3M1140 204.5h3M1141.5 203v3M1142 204.5h3M1143.5 203v3M1144 204.5h3M1145.5 203v3M1147 204.5h3M1148.5 203v3M1149 204.5h3M1150.5 203v3M1151 204.5h3M1152.5 203v3M1153 204.5h3M1154.5 203v3M1155 204.5h3M1156.5 203v3M1157 204.5h3M1158.5 203v3M1160 204.5h3M1161.5 203v3M1162 204.5h3M1163.5 203v3M1164 204.5h3M1165.5 203v3M1166 204.5h3M1167.5 203v3M1168 204.5h3M1169.5 203v3M1170 204.5h3M1171.5 203v3M1172 204.5h3M1173.5 203v3M1175 204.5h3M1176.5 203v3M1177 204.5h3M1178.5 203v3M1179 204.5h3M1180.5 203v3M1181 204.5h3M1182.5 203v3M1183 204.5h3M1184.5 203v3M1185 204.5h3M1186.5 203v3M1187 204.5h3M1188.5 203v3M1190 204.5h3M1191.5 203v3M1192 204.5h3M1193.5 203v3M1194 204.5h3M1195.5 203v3M1196 204.5h3M1197.5 203v3M1198 204.5h3M1199.5 203v3M1200 204.5h3M1201.5 203v3M1203 204.5h3M1204.5 203v3M1205 204.5h3M1206.5 203v3M1207 204.5h3M1208.5 203v3M1209 204.5h3M1210.5 203v3M1211 204.5h3M1212.5 203v3M1213 204.5h3M1214.5 203v3M1215 204.5h3M1216.5 203v3M1218 204.5h3M1219.5 203v3M1220 204.5h3M1221.5 203v3M1222 204.5h3M1223.5 203v3M1224 204.5h3M1225.5 203v3M1226 204.5h3M1227.5 203v3M1228 204.5h3M1229.5 203v3M1230 204.5h3M1231.5 203v3M1233 204.5h3M1234.5 203v3M1235 204.5h3M1236.5 203v3M1237 204.5h3M1238.5 203v3M1239 204.5h3M1240.5 203v3M1241 204.5h3M1242.5 203v3M1243 204.5h3M1244.5 203v3M1246 204.5h3M1247.5 203v3M1248 204.5h3M1249.5 203v3M1250 204.5h3M1251.5 203v3M1252 204.5h3M1253.5 203v3M1254 204.5h3M1255.5 203v3M1256 204.5h3M1257.5 203v3M1258 204.5h3M1259.5 203v3M1261 204.5h3M1262.5 203v3M1263 204.5h3M1264.5 203v3M1265 204.5h3M1266.5 203v3M1267 204.5h3M1268.5 203v3M1269 204.5h3M1270.5 203v3M1271 204.5h3M1272.5 203v3M1273 204.5h3M1274.5 203v3M1276 204.5h3M1277.5 203v3M1278 204.5h3M1279.5 203v3M1280 204.5h3M1281.5 203v3M1282 204.5h3M1283.5 203v3M1284 204.5h3M1285.5 203v3M1286 204.5h3M1287.5 203v3M1289 204.5h3M1290.5 203v3M1291 204.5h3M1292.5 203v3M1293 204.5h3M1294.5 203v3M1295 204.5h3M1296.5 203v3M1297 204.5h3M1298.5 203v3M1299 204.5h3M1300.5 203v3M1301 204.5h3M1302.5 203v3M1304 204.5h3M1305.5 203v3M1306 204.5h3M1307.5 203v3M1308 204.5h3M1309.5 203v3M1310 204.5h3M1311.5 203v3M1312 204.5h3M1313.5 203v3M1314 204.5h3M1315.5 203v3M1316 204.5h3M1317.5 203v3M1319 204.5h3M1320.5 203v3M1321 204.5h3M1322.5 203v3M1323 204.5h3M1324.5 203v3M1325 204.5h3M1326.5 203v3M1327 204.5h3M1328.5 203v3M1329 204.5h3M1330.5 203v3M1332 204.5h3M1333.5 203v3M1334 204.5h3M1335.5 203v3M1336 204.5h3M1337.5 203v3M1338 204.5h3M1339.5 203v3M1340 204.5h3M1341.5 203v3M1342 204.5h3M1343.5 203v3M1344 204.5h3M1345.5 203v3M1347 204.5h3M1348.5 203v3M1349 204.5h3M1350.5 203v3M1351 204.5h3M1352.5 203v3M1353 204.5h3M1354.5 203v3M1355 204.5h3M1356.5 203v3M1357 204.5h3M1358.5 203v3M1359 204.5h3M1360.5 203v3M1362 204.5h3M1363.5 203v3M1364 204.5h3M1365.5 203v3M1366 204.5h3M1367.5 203v3M1368 204.5h3M1369.5 203v3M1370 204.5h3M1371.5 203v3M1372 204.5h3M1373.5 203v3M1375 204.5h3M1376.5 203v3M1377 204.5h3M1378.5 203v3M1379 204.5h3M1380.5 203v3M1381 204.5h3M1382.5 203v3M1383 204.5h3M1384.5 203v3M1385 204.5h3M1386.5 203v3M1387 204.5h3M1388.5 203v3M1390 204.5h3M1391.5 203v3M1392 204.5h3M1393.5 203v3M1394 204.5h3M1395.5 203v3M1396 204.5h3M1397.5 203v3M1398 204.5h3M1399.5 203v3M1400 204.5h3M1401.5 203v3M1402 204.5h3M1403.5 203v3M1405 204.5h3M1406.5 203v3M1407 204.5h3M1408.5 203v3M1409 204.5h3M1410.5 203v3M1411 204.5h3M1412.5 203v3M1413 204.5h3M1414.5 203v3M1415 204.5h3M1416.5 203v3M1418 204.5h3M1419.5 203v3M1420 204.5h3M1421.5 203v3M1422 204.5h3M1423.5 203v3" stroke="#000" stroke-width="1" fill="none"/>
<path d="M1425.5 10v179M1398 16.5h27M1412 27.5h13M1412 37.5h13M1412 48.5h13M1412 59.5h13M1398 69.5h27M1412 80.5h13M1412 90.5h13M1412 101.5h13M1412 112.5h13M1398 122.5h27M1412 133.5h13M1412 143.5h13M1412 154.5h13M1412 164.5h13M1398 175.5h27M1412 186.5h13M76 76.5h2M76.5 75v3M77 76.5h3M78.5 75v4M80 77.5h3M81.5 76v3M82 77.5h3M83.5 75v4M84 77.5h3M85.5 76v3M86 77.5h3M87.5 76v3M88 77.5h3M89.5 76v3M90 77.5h3M91.5 76v3M92 77.5h3M93.5 76v3M95 77.5h3M96.5 76v3M97 77.5h3M98.5 76v4M99 78.5h3M100.5 76v4M101 78.5h3M102.5 77v3M103 78.5h3M104.5 77v3M105 78.5h3M106.5 77v3M107 78.5h3M108.5 77v3M110 78.5h3M111.5 77v3M112 78.5h3M113.5 77v3M114 78.5h3M115.5 77v4M116 78.5h3M117.5 77v4M118 79.5h3M119.5 77v4M120 79.5h3M121.5 77v4M122 79.5h3M123.5 78v3M125 79.5h3M126.5 78v3M127 79.5h3M128.5 78v3M129 79.5h3M130.5 78v3M131 79.5h3M132.5 78v4M133 79.5h3M134.5 78v4M135 80.5h3M136.5 78v4M137 80.5h3M138.5 79v3M140 80.5h3M141.5 79v3M142 80.5h3M143.5 79v3M144 80.5h3M145.5 79v3M146 80.5h3M147.5 79v3M148 80.5h3M149.5 79v4M150 81.5h3M151.5 79v4M152 81.5h3M153.5 79v4M155 81.5h3M156.5 80v3M157 81.5h3M158.5 80v3M159 81.5h3M160.5 80v3M161 81.5h3M162.5 80v3M163 81.5h3M164.5 80v4M165 81.5h3M166.5 80v4M167 82.5h3M168.5 80v4M170 82.5h3M171.5 81v3M172 82.5h3M173.5 81v3M174 82.5h3M175.5 81v3M176 82.5h3M177.5 81v3M178 82.5h3M179.5 81v3M180 82.5h3M181.5 81v3M182 83.5h3M183.5 81v4M185 83.5h3M186.5 82v3M187 83.5h3M188.5 82v3M189 83.5h3M190.5 82v3M191 83.5h3M192.5 82v3M193 83.5h3M194.5 82v3M195 83.5h3M196.5 82v3M197 83.5h3M198.5 82v4M200 84.5h3M201.5 83v3M202 84.5h3M203.5 83v3M204 84.5h3M205.5 83v3M206 84.5h3M207.5 83v3M208 84.5h3M209.5 83v3M210 84.5h3M211.5 83v3M212 84.5h3M213.5 83v4M215 85.5h3M216.5 83v4M217 85.5h3M218.5 84v3M219 85.5h3M220.5 84v3M221 85.5h3M222.5 84v3M223 85.5h3M224.5 84v3M225 85.5h3M226.5 84v3M227 85.5h3M228.5 84v3M230 86.5h3M231.5 84v4M232 86.5h3M233.5 85v3M234 86.5h3M235.5 85v3M236 86.5h3M237.5 85v3M238 86.5h3M239.5 85v3M240 86.5h3M241.5 85v3M242 86.5h3M243.5 85v4M245 86.5h3M246.5 85v4M247 87.5h3M248.5 86v3M249 87.5h3M250.5 86v3M251 87.5h3M252.5 86v3M253 87.5h3M254.5 86v3M255 87.5h3M256.5 86v3M257 87.5h3M258.5 86v3M260 88.5h3M261.5 86v4M262 88.5h3M263.5 86v4M264 88.5h3M265.5 87v3M266 88.5h3M267.5 87v3M268 88.5h3M269.5 87v3M270 88.5h3M271.5 87v3M272 88.5h3M273.5 87v3M275 88.5h3M276.5 87v4M277 89.5h3M278.5 87v4M279 89.5h3M280.5 88v3M281 89.5h3M282.5 88v3M283 89.5h3M284.5 88v3M285 89.5h3M286.5 88v3M287 89.5h3M288.5 88v3M290 89.5h3M291.5 88v4M292 90.5h3M293.5 89v3M294 90.5h3M295.5 89v3M296 90.5h3M297.5 89v3M298 90.5h3M299.5 89v3M300 90.5h3M301.5 89v3M302 90.5h3M303.5 89v4M305 91.5h3M306.5 89v4M307 91.5h3M308.5 90v3M309 91.5h3M310.5 90v3M311 91.5h3M312.5 90v3M313 91.5h3M314.5 90v3M315 91.5h3M316.5 90v3M317 91.5h3M318.5 90v4M320 92.5h3M321.5 90v4M322 92.5h3M323.5 90v4M324 92.5h3M325.5 91v3M326 92.5h3M327.5 91v3M328 92.5h3M329.5 91v3M330 92.5h3M331.5 91v3M332 92.5h3M333.5 91v4M335 93.5h3M336.5 91v4M337 93.5h3M338.5 92v3M339 93.5h3M340.5 92v3M341 93.5h3M342.5 92v3M343 93.5h3M344.5 92v3M345 93.5h3M346.5 92v4M347 93.5h3M348.5 92v4M350 94.5h3M351.5 93v3M352 94.5h3M353.5 93v3M354 94.5h3M355.5 93v3M356 94.5h3M357.5 93v3M358 94.5h3M359.5 93v3M360 94.5h3M361.5 93v4M362 95.5h3M363.5 93v4M365 95.5h3M366.5 94v3M367 95.5h3M368.5 94v3M369 95.5h3M370.5 94v3M371 96.5h3M372.5 94v4M373 96.5h3M374.5 94v4M375 96.5h3M376.5 95v3M377 96.5h3M378.5 95v3M380 96.5h3M381.5 95v3M382 96.5h3M383.5 95v4M384 97.5h3M385.5 95v4M386 97.5h3M387.5 96v3M388 97.5h3M389.5 96v3M390 97.5h3M391.5 96v3M392 97.5h3M393.5 96v4M395 98.5h3M396.5 97v3M397 98.5h3M398.5 97v3M399 98.5h3M400.5 97v3M401 98.5h3M402.5 97v3M403 98.5h3M404.5 97v4M405 98.5h3M406.5 97v4M407 99.5h3M408.5 98v3M410 99.5h3M411.5 98v3M412 99.5h3M413.5 98v3M414 99.5h3M415.5 98v3M416 100.5h3M417.5 98v4M418 100.5h3M419.5 99v3M420 100.5h3M421.5 99v3M422 100.5h3M423.5 99v3M425 100.5h3M426.5 99v3M427 100.5h3M428.5 99v4M429 101.5h3M430.5 99v4M431 101.5h3M432.5 100v3M433 101.5h3M434.5 100v3M435 101.5h3M436.5 100v3M437 101.5h3M438.5 100v3M440 102.5h3M441.5 100v4M442 102.5h3M443.5 101v3M444 102.5h3M445.5 101v3M446 102.5h3M447.5 101v3M448 102.5h3M449.5 101v4M450 103.5h3M451.5 101v4M452 103.5h3M453.5 102v3M455 103.5h3M456.5 102v3M457 103.5h3M458.5 102v3M459 103.5h3M460.5 102v3M461 104.5h3M462.5 102v4M463 104.5h3M464.5 103v3M465 104.5h3M466.5 103v3M467 104.5h3M468.5 103v3M470 104.5h3M471.5 103v4M472 105.5h3M473.5 104v3M474 105.5h3M475.5 104v3M476 105.5h3M477.5 104v3M478 105.5h3M479.5 104v3M480 105.5h3M481.5 104v4M482 106.5h3M483.5 104v4M485 106.5h3M486.5 105v3M487 106.5h3M488.5 105v3M489 106.5h3M490.5 105v4M491 106.5h3M492.5 105v4M493 107.5h3M494.5 105v4M495 107.5h3M496.5 106v3M497 107.5h3M498.5 106v3M500 107.5h3M501.5 106v4M502 108.5h3M503.5 106v4M504 108.5h3M505.5 107v3M506 108.5h3M507.5 107v3M508 108.5h3M509.5 107v3M510 108.5h3M511.5 107v3M512 109.5h3M513.5 107v4M515 109.5h3M516.5 108v3M517 109.5h3M518.5 108v3M519 109.5h3M520.5 108v3M521 109.5h3M522.5 108v4M523 109.5h3M524.5 108v4M525 110.5h3M526.5 109v3M527 110.5h3M528.5 109v3M530 110.5h3M531.5 109v3M532 110.5h3M533.5 109v3M534 111.5h3M535.5 109v4M536 111.5h3M537.5 110v3M538 111.5h3M539.5 110v3M540 111.5h3M541.5 110v3M542 111.5h3M543.5 110v3M545 112.5h3M546.5 110v4M547 112.5h3M548.5 111v3M549 112.5h3M550.5 111v3M551 112.5h3M552.5 111v3M553 112.5h3M554.5 111v3M555 113.5h3M556.5 111v4M557 113.5h3M558.5 112v3M560 113.5h3M561.5 112v3M562 113.5h3M563.5 112v3M564 113.5h3M565.5 112v4M566 114.5h3M567.5 112v4M568 114.5h3M569.5 113v3M570 114.5h3M571.5 113v3M572 114.5h3M573.5 113v3M575 114.5h3M576.5 113v4M577 115.5h3M578.5 113v4M579 115.5h3M580.5 114v3M581 115.5h3M582.5 114v3M583 115.5h3M584.5 114v3M585 115.5h3M586.5 114v4M587 116.5h3M588.5 114v4M590 116.5h3M591.5 115v3M592 116.5h3M593.5 115v3M594 116.5h3M595.5 115v3M596 116.5h3M597.5 115v4M598 117.5h3M599.5 116v3M600 117.5h3M601.5 116v3M602 117.5h3M603.5 116v3M604 117.5h3M605.5 116v3M607 117.5h3M608.5 116v4M609 118.5h3M610.5 116v4M611 118.5h3M612.5 117v3M613 118.5h3M614.5 117v3M615 118.5h3M616.5 117v3M617 118.5h3M618.5 117v4M619 119.5h3M620.5 118v3M622 119.5h3M623.5 118v3M624 119.5h3M625.5 118v3M626 119.5h3M627.5 118v3M628 120.5h3M629.5 118v4M630 120.5h3M631.5 118v4M632 120.5h3M633.5 119v3M634 120.5h3M635.5 119v3M637 120.5h3M638.5 119v4M639 121.5h3M640.5 119v4M641 121.5h3M642.5 120v3M643 121.5h3M644.5 120v3M645 121.5h3M646.5 120v3M647 121.5h3M648.5 120v3M649 121.5h3M650.5 120v4M652 122.5h3M653.5 120v4M654 122.5h3M655.5 121v3M656 122.5h3M657.5 121v3M658 122.5h3M659.5 121v3M660 122.5h3M661.5 121v3M662 122.5h3M663.5 121v4M664 123.5h3M665.5 122v3M667 123.5h3M668.5 122v3M669 123.5h3M670.5 122v3M671 123.5h3M672.5 122v3M673 123.5h3M674.5 122v4M675 124.5h3M676.5 122v4M677 124.5h3M678.5 123v3M679 124.5h3M680.5 123v3M682 124.5h3M683.5 123v3M684 124.5h3M685.5 123v4M686 124.5h3M687.5 123v4M688 125.5h3M689.5 123v4M690 125.5h3M691.5 124v3M692 125.5h3M693.5 124v3M694 125.5h3M695.5 124v3M697 125.5h3M698.5 124v4M699 126.5h3M700.5 125v3M701 126.5h3M702.5 125v3M703 126.5h3M704.5 125v3M705 126.5h3M706.5 125v3M707 126.5h3M708.5 125v4M709 127.5h3M710.5 125v4M712 127.5h3M713.5 126v3M714 127.5h3M715.5 126v3M716 127.5h3M717.5 126v3M718 127.5h3M719.5 126v3M720 128.5h3M721.5 126v4M722 128.5h3M723.5 127v3M724 128.5h3M725.5 127v3M727 128.5h3M728.5 127v3M729 128.5h3M730.5 127v4M731 128.5h3M732.5 127v4M733 129.5h3M734.5 128v3M735 129.5h3M736.5 128v3M737 129.5h3M738.5 128v3M739 129.5h3M740.5 128v3M742 129.5h3M743.5 128v4M744 130.5h3M745.5 129v3M746 130.5h3M747.5 129v3M748 130.5h3M749.5 129v3M750 130.5h3M751.5 129v3M752 130.5h3M753.5 129v3M754 130.5h3M755.5 129v3M757 131.5h3M758.5 130v3M759 131.5h3M760.5 130v3M761 131.5h3M762.5 130v3M763 131.5h3M764.5 130v3M765 131.5h3M766.5 130v3M767 131.5h3M768.5 130v3M769 131.5h3M770.5 130v4M772 132.5h3M773.5 131v3M774 132.5h3M775.5 131v3M776 132.5h3M777.5 131v3M778 132.5h3M779.5 131v3M780 132.5h3M781.5 131v3M782 132.5h3M783.5 131v4M784 133.5h3M785.5 131v4M787 133.5h3M788.5 132v3M789 133.5h3M790.5 132v3M791 133.5h3M792.5 132v3M793 133.5h3M794.5 132v3M795 133.5h3M796.5 132v3M797 133.5h3M798.5 132v4M799 134.5h3M800.5 132v4M802 134.5h3M803.5 133v3M804 134.5h3M805.5 133v3M806 134.5h3M807.5 133v3M808 134.5h3M809.5 133v3M810 134.5h3M811.5 133v3M812 134.5h3M813.5 133v3M814 134.5h3M815.5 133v4M817 135.5h3M818.5 133v4M819 135.5h3M820.5 134v3M821 135.5h3M822.5 134v3M823 135.5h3M824.5 134v3M825 135.5h3M826.5 134v3M827 135.5h3M828.5 134v3M829 135.5h3M830.5 134v3M832 136.5h3M833.5 134v4M834 136.5h3M835.5 134v4M836 136.5h3M837.5 134v4M838 136.5h3M839.5 135v3M840 136.5h3M841.5 135v3M842 136.5h3M843.5 135v3M844 136.5h3M845.5 135v3M847 136.5h3M848.5 135v3M849 136.5h3M850.5 135v3M851 136.5h3M852.5 135v3M853 136.5h3M854.5 135v3M855 136.5h3M856.5 135v3M857 136.5h3M858.5 135v3M859 136.5h3M860.5 135v3M862 136.5h3M863.5 135v3M864 136.5h3M865.5 135v3M866 136.5h3M867.5 135v3M868 136.5h3M869.5 135v4M870 136.5h3M871.5 135v4M872 136.5h3M873.5 135v4M874 136.5h3M875.5 135v4M877 137.5h3M878.5 135v4M879 137.5h3M880.5 135v4M881 137.5h3M882.5 136v3M883 137.5h3M884.5 135v4M885 137.5h3M886.5 136v3M887 137.5h3M888.5 136v3M889 137.5h3M890.5 136v3M892 137.5h3M893.5 136v3M894 137.5h3M895.5 136v3M896 137.5h3M897.5 136v3M898 137.5h3M899.5 136v3M900 137.5h3M901.5 136v3M902 137.5h3M903.5 136v3M904 137.5h3M905.5 136v3M907 137.5h3M908.5 136v3M909 137.5h3M910.5 136v3M911 137.5h3M912.5 136v3M913 137.5h3M914.5 136v3M915 137.5h3M916.5 136v3M917 137.5h3M918.5 136v3M919 137.5h3M920.5 136v4M922 137.5h3M923.5 136v4M924 138.5h3M925.5 136v4M926 137.5h3M927.5 136v4M928 138.5h3M929.5 136v4M930 138.5h3M931.5 136v4M932 138.5h3M933.5 136v4M934 138.5h3M935.5 136v4M937 138.5h3M938.5 137v3M939 138.5h3M940.5 136v4M941 138.5h3M942.5 136v4M943 138.5h3M944.5 137v3M945 138.5h3M946.5 137v3M947 138.5h3M948.5 137v3M949 138.5h3M950.5 137v3M952 138.5h3M953.5 137v3M954 138.5h3M955.5 137v3M956 138.5h3M957.5 137v3M958 138.5h3M959.5 137v3M960 138.5h3M961.5 137v3M962 138.5h3M963.5 137v3M964 138.5h3M965.5 137v3M967 138.5h3M968.5 137v3M969 138.5h3M970.5 137v3M971 138.5h3M972.5 137v3M973 138.5h3M974.5 137v3M975 138.5h3M976.5 136v4M977 138.5h3M978.5 137v3M979 138.5h3M980.5 136v4M982 138.5h3M983.5 136v4M984 138.5h3M985.5 136v4M986 137.5h3M987.5 136v4M988 137.5h3M989.5 136v4M990 137.5h3M991.5 136v3M992 137.5h3M993.5 136v3M994 137.5h3M995.5 136v3M997 137.5h3M998.5 136v3M999 137.5h3M1000.5 136v3M1001 137.5h3M1002.5 136v3M1003 137.5h3M1004.5 136v3M1005 137.5h3M1006.5 136v3M1007 137.5h3M1008.5 136v3M1009 137.5h3M1010.5 136v3M1012 137.5h3M1013.5 136v3M1014 137.5h3M1015.5 135v4M1016 136.5h3M1017.5 135v4M1018 136.5h3M1019.5 135v3M1020 136.5h3M1021.5 135v3M1022 136.5h3M1023.5 135v3M1024 136.5h3M1025.5 135v3M1027 136.5h3M1028.5 135v3M1029 136.5h3M1030.5 135v3M1031 136.5h3M1032.5 135v3M1033 136.5h3M1034.5 135v3M1035 136.5h3M1036.5 135v3M1037 136.5h3M1038.5 135v3M1039 136.5h3M1040.5 135v3M1042 136.5h3M1043.5 134v4M1044 135.5h3M1045.5 134v4M1046 135.5h3M1047.5 134v4M1048 135.5h3M1049.5 134v4M1050 135.5h3M1051.5 134v4M1052 135.5h3M1053.5 134v3M1054 135.5h3M1055.5 134v3M1057 135.5h3M1058.5 134v3M1059 135.5h3M1060.5 134v3M1061 135.5h3M1062.5 134v3M1063 135.5h3M1064.5 134v3M1065 135.5h3M1066.5 134v3M1067 135.5h3M1068.5 134v3M1069 135.5h3M1070.5 134v3M1072 135.5h3M1073.5 134v3M1074 135.5h3M1075.5 133v4M1076 135.5h3M1077.5 133v4M1078 135.5h3M1079.5 133v4M1080 135.5h3M1081.5 133v4M1082 134.5h3M1083.5 133v4M1084 134.5h3M1085.5 133v3M1087 134.5h3M1088.5 133v3M1089 134.5h3M1090.5 133v3M1091 134.5h3M1092.5 133v3M1093 134.5h3M1094.5 133v3M1095 134.5h3M1096.5 133v3M1097 134.5h3M1098.5 133v3M1099 134.5h3M1100.5 133v3M1102 134.5h3M1103.5 133v3M1104 134.5h3M1105.5 132v4M1106 134.5h3M1107.5 132v4M1108 133.5h3M1109.5 132v4M1110 133.5h3M1111.5 132v4M1112 133.5h3M1113.5 132v3M1114 133.5h3M1115.5 132v3M1117 133.5h3M1118.5 132v3M1119 133.5h3M1120.5 132v3M1121 133.5h3M1122.5 132v3M1123 133.5h3M1124.5 132v3M1125 133.5h3M1126.5 132v3M1127 133.5h3M1128.5 131v4M1129 132.5h3M1130.5 131v4M1132 132.5h3M1133.5 131v4M1134 132.5h3M1135.5 131v3M1136 132.5h3M1137.5 131v3M1138 132.5h3M1139.5 131v3M1140 132.5h3M1141.5 131v3M1142 132.5h3M1143.5 131v3M1144 132.5h3M1145.5 131v3M1147 132.5h3M1148.5 130v4M1149 132.5h3M1150.5 130v4M1151 131.5h3M1152.5 130v4M1153 131.5h3M1154.5 130v3M1155 131.5h3M1156.5 130v3M1157 131.5h3M1158.5 130v3M1160 131.5h3M1161.5 130v3M1162 131.5h3M1163.5 130v3M1164 131.5h3M1165.5 130v3M1166 131.5h3M1167.5 129v4M1168 131.5h3M1169.5 129v4M1170 130.5h3M1171.5 129v4M1172 130.5h3M1173.5 129v4M1175 130.5h3M1176.5 129v3M1177 130.5h3M1178.5 129v3M1179 130.5h3M1180.5 129v3M1181 130.5h3M1182.5 129v3M1183 130.5h3M1184.5 129v3M1185 130.5h3M1186.5 129v3M1187 130.5h3M1188.5 129v3M1190 130.5h3M1191.5 128v4M1192 130.5h3M1193.5 128v4M1194 130.5h3M1195.5 128v4M1196 129.5h3M1197.5 128v4M1198 129.5h3M1199.5 128v3M1200 129.5h3M1201.5 128v3M1203 129.5h3M1204.5 128v3M1205 129.5h3M1206.5 128v3M1207 129.5h3M1208.5 128v3M1209 129.5h3M1210.5 128v3M1211 129.5h3M1212.5 128v3M1213 129.5h3M1214.5 127v4M1215 129.5h3M1216.5 127v4M1218 129.5h3M1219.5 127v4M1220 128.5h3M1221.5 127v4M1222 128.5h3M1223.5 127v3M1224 128.5h3M1225.5 127v3M1226 128.5h3M1227.5 127v3M1228 128.5h3M1229.5 127v3M1230 128.5h3M1231.5 127v3M1233 127.5h3M1234.5 126v4M1235 127.5h3M1236.5 126v3M1237 127.5h3M1238.5 126v3M1239 127.5h3M1240.5 126v3M1241 127.5h3M1242.5 126v3M1243 127.5h3M1244.5 125v4M1246 126.5h3M1247.5 125v3M1248 126.5h3M1249.5 125v3M1250 126.5h3M1251.5 125v3M1252 126.5h3M1253.5 125v3M1254 126.5h3M1255.5 124v4M1256 125.5h3M1257.5 124v4M1258 125.5h3M1259.5 124v3M1261 125.5h3M1262.5 124v3M1263 125.5h3M1264.5 124v3M1265 125.5h3M1266.5 124v3M1267 124.5h3M1268.5 123v4M1269 124.5h3M1270.5 123v3M1271 124.5h3M1272.5 123v3M1273 124.5h3M1274.5 123v3M1276 124.5h3M1277.5 123v3M1278 123.5h3M1279.5 122v4M1280 123.5h3M1281.5 122v3M1282 123.5h3M1283.5 122v3M1284 123.5h3M1285.5 122v3M1286 123.5h3M1287.5 122v3M1289 123.5h3M1290.5 122v3M1291 123.5h3M1292.5 122v3M1293 122.5h3M1294.5 121v4M1295 122.5h3M1296.5 121v4M1297 122.5h3M1298.5 121v3M1299 122.5h3M1300.5 121v3M1301 122.5h3M1302.5 121v3M1304 122.5h3M1305.5 121v3M1306 122.5h3M1307.5 120v4M1308 122.5h3M1309.5 120v4M1310 121.5h3M1311.5 120v4M1312 121.5h3M1313.5 120v3M1314 121.5h3M1315.5 120v3M1316 121.5h3M1317.5 120v3M1319 121.5h3M1320.5 119v4M1321 120.5h3M1322.5 119v4M1323 120.5h3M1324.5 119v4M1325 120.5h3M1326.5 119v3M1327 120.5h3M1328.5 119v3M1329 120.5h3M1330.5 119v3M1332 120.5h3M1333.5 119v3M1334 120.5h3M1335.5 119v3M1336 120.5h3M1337.5 118v4M1338 119.5h3M1339.5 118v4M1340 119.5h3M1341.5 118v4M1342 119.5h3M1343.5 118v3M1344 119.5h3M1345.5 118v3M1347 119.5h3M1348.5 118v3M1349 119.5h3M1350.5 118v3M1351 119.5h3M1352.5 118v3M1353 119.5h3M1354.5 118v3M1355 119.5h3M1356.5 117v4M1357 118.5h3M1358.5 117v4M1359 118.5h3M1360.5 117v3M1362 118.5h3M1363.5 117v3M1364 118.5h3M1365.5 117v3M1366 118.5h3M1367.5 117v3M1368 118.5h3M1369.5 117v3M1370 118.5h3M1371.5 117v3M1372 118.5h3M1373.5 116v4M1375 117.5h3M1376.5 116v4M1377 117.5h3M1378.5 116v4M1379 117.5h3M1380.5 116v3M1381 117.5h3M1382.5 116v3M1383 117.5h3M1384.5 116v3M1385 117.5h3M1386.5 116v3M1387 117.5h3M1388.5 116v3M1390 117.5h3M1391.5 116v3M1392 117.5h3M1393.5 116v3M1394 117.5h3M1395.5 115v4M1396 116.5h3M1397.5 115v4M1398 116.5h3M1399.5 115v4M1400 116.5h3M1401.5 115v4M1402 116.5h3M1403.5 115v4M1405 116.5h3M1406.5 115v3M1407 116.5h3M1408.5 115v3M1409 116.5h3M1410.5 115v3M1411 116.5h3M1412.5 115v3M1413 116.5h3M1414.5 115v3M1415 116.5h3M1416.5 115v3M1418 116.5h3M1419.5 114v4M1420 116.5h3M1421.5 114v4M1422 115.5h3M1423.5 114v4" stroke="#ff00ff" stroke-width="1" fill="none"/>
</g>
<g opacity="0.999" style="will-change:opacity">
<text x="71.7" y="18.9" text-anchor="end" fill="#000" font-size="11">12</text>
<text x="71.7" y="60.0" text-anchor="end" fill="#000" font-size="11">10</text>
<text x="71.7" y="101.1" text-anchor="end" fill="#000" font-size="11">8</text>
<text x="71.7" y="142.1" text-anchor="end" fill="#000" font-size="11">6</text>
<text x="71.7" y="183.2" text-anchor="end" fill="#000" font-size="11">4</text>
<text x="71.7" y="208.9" text-anchor="end" fill="#000" font-size="11">1.0</text>
<text x="71.7" y="246.4" text-anchor="end" fill="#000" font-size="11">0.5</text>
<text x="71.7" y="283.9" text-anchor="end" fill="#000" font-size="11">0.0</text>
<text x="71.7" y="321.4" text-anchor="end" fill="#000" font-size="11" textLength="25.3" lengthAdjust="spacingAndGlyphs">−0.5</text>
<text x="71.7" y="358.9" text-anchor="end" fill="#000" font-size="11" textLength="25.3" lengthAdjust="spacingAndGlyphs">−1.0</text>
<text x="1428.7" y="20.9" text-anchor="start" fill="#ff00ff" font-size="11" textLength="20" lengthAdjust="spacingAndGlyphs">500</text>
<text x="1428.7" y="73.8" text-anchor="start" fill="#ff00ff" font-size="11" textLength="20" lengthAdjust="spacingAndGlyphs">450</text>
<text x="1428.7" y="126.8" text-anchor="start" fill="#ff00ff" font-size="11" textLength="20" lengthAdjust="spacingAndGlyphs">400</text>
<text x="1428.7" y="179.8" text-anchor="start" fill="#ff00ff" font-size="11" textLength="20" lengthAdjust="spacingAndGlyphs">350</text>
<text x="176.4" y="384.2" text-anchor="middle" fill="#000" font-size="11" textLength="30.5" lengthAdjust="spacingAndGlyphs">12:00</text>
<text x="176.6" y="394" text-anchor="middle" fill="#000" font-size="11" textLength="36.2" lengthAdjust="spacingAndGlyphs">Mar.25</text>
<text x="386.7" y="384.2" text-anchor="middle" fill="#000" font-size="11" textLength="24.6" lengthAdjust="spacingAndGlyphs">0:00</text>
<text x="384.3" y="394" text-anchor="middle" fill="#000" font-size="11" textLength="36.2" lengthAdjust="spacingAndGlyphs">Mar.26</text>
<text x="591.7" y="384.2" text-anchor="middle" fill="#000" font-size="11" textLength="30.5" lengthAdjust="spacingAndGlyphs">12:00</text>
<text x="591.9" y="394" text-anchor="middle" fill="#000" font-size="11" textLength="36.2" lengthAdjust="spacingAndGlyphs">Mar.26</text>
<text x="802.0" y="384.2" text-anchor="middle" fill="#000" font-size="11" textLength="24.6" lengthAdjust="spacingAndGlyphs">0:00</text>
<text x="799.6" y="394" text-anchor="middle" fill="#000" font-size="11" textLength="36.2" lengthAdjust="spacingAndGlyphs">Mar.27</text>
<text x="1007.0" y="384.2" text-anchor="middle" fill="#000" font-size="11" textLength="30.5" lengthAdjust="spacingAndGlyphs">12:00</text>
<text x="1007.2" y="394" text-anchor="middle" fill="#000" font-size="11" textLength="36.2" lengthAdjust="spacingAndGlyphs">Mar.27</text>
<text x="1217.3" y="384.2" text-anchor="middle" fill="#000" font-size="11" textLength="24.6" lengthAdjust="spacingAndGlyphs">0:00</text>
<text x="1214.9" y="394" text-anchor="middle" fill="#000" font-size="11" textLength="36.2" lengthAdjust="spacingAndGlyphs">Mar.28</text>
<text x="1422.4" y="384.2" text-anchor="middle" fill="#000" font-size="11" textLength="30.5" lengthAdjust="spacingAndGlyphs">12:00</text>
<text x="1422.6" y="394" text-anchor="middle" fill="#000" font-size="11" textLength="36.2" lengthAdjust="spacingAndGlyphs">Mar.28</text>
<text x="620.28" y="406" text-anchor="start" fill="#000" font-size="11" textLength="78.9" lengthAdjust="spacingAndGlyphs">hours:minutes,</text>
<text x="704.03" y="406" text-anchor="start" fill="#000" font-size="11" textLength="22.19" lengthAdjust="spacingAndGlyphs">Mar.</text>
<text x="732.47" y="406" text-anchor="start" fill="#000" font-size="11" textLength="17.38" lengthAdjust="spacingAndGlyphs">25,</text>
<text x="754.66" y="406" text-anchor="start" fill="#000" font-size="11" textLength="26.99" lengthAdjust="spacingAndGlyphs">2014</text>
<text x="788.47" y="406" text-anchor="start" fill="#000" font-size="11" textLength="8.09" lengthAdjust="spacingAndGlyphs">−</text>
<text x="802.16" y="406" text-anchor="start" fill="#000" font-size="11" textLength="22.68" lengthAdjust="spacingAndGlyphs">Mar.</text>
<text x="829.47" y="406" text-anchor="start" fill="#000" font-size="11" textLength="17.38" lengthAdjust="spacingAndGlyphs">28,</text>
<text x="852.66" y="406" text-anchor="start" fill="#000" font-size="11" textLength="26.99" lengthAdjust="spacingAndGlyphs">2014</text>
<text transform="translate(20,99.7) rotate(-90)" text-anchor="middle" font-size="11" textLength="27.3" lengthAdjust="spacingAndGlyphs">ENLIL</text>
<g transform="translate(30.2,99.7) rotate(-90)"><text x="-29.2" y="0" font-size="11" textLength="14.2" lengthAdjust="spacingAndGlyphs">Ion</text><text x="-8.8" y="0" font-size="11" textLength="37.2" lengthAdjust="spacingAndGlyphs">Density</text></g>
<g transform="translate(50,99.7) rotate(-90)"><text x="-16.8" y="-0.9" font-size="12" font-weight="bold">[</text><text x="-11.1" y="0" font-size="11">cm</text><text x="3.3" y="-6.2" font-size="8" textLength="10.0" lengthAdjust="spacingAndGlyphs">−3</text><text x="13.6" y="-0.9" font-size="12">]</text></g>
<text transform="translate(1461,99.7) rotate(-90)" text-anchor="middle" font-size="11" textLength="27.3" lengthAdjust="spacingAndGlyphs">ENLIL</text>
<text transform="translate(1470.3,99.9) rotate(-90)" text-anchor="middle" font-size="11" textLength="40" lengthAdjust="spacingAndGlyphs">Velocity</text>
<g transform="translate(1481,99.7) rotate(-90)"><text x="-18.5" y="-0.4" font-size="12">[</text><text x="-14.7" y="0" font-size="11" textLength="13.6" lengthAdjust="spacingAndGlyphs">km</text><text x="9.5" y="0" font-size="11">s</text><text x="14.6" y="-0.4" font-size="12" font-weight="bold">]</text></g>
<path d="M1482.8 97.8L1471 91.3" stroke="#000" stroke-width="1" fill="none" shape-rendering="crispEdges"/>
<text transform="translate(18.3,279.5) rotate(-90)" text-anchor="middle" font-size="11" textLength="27.8" lengthAdjust="spacingAndGlyphs">ENLIL</text>
<g transform="translate(26.3,279.4) rotate(-90)"><text x="-27.1" y="0" font-size="11">B</text><text x="-19.7" y="3.7" font-size="7.5">r</text><text x="-12.4" y="0" font-size="11" textLength="39.4" lengthAdjust="spacingAndGlyphs">polarity</text></g>
</g>
</svg>
</body></html>
